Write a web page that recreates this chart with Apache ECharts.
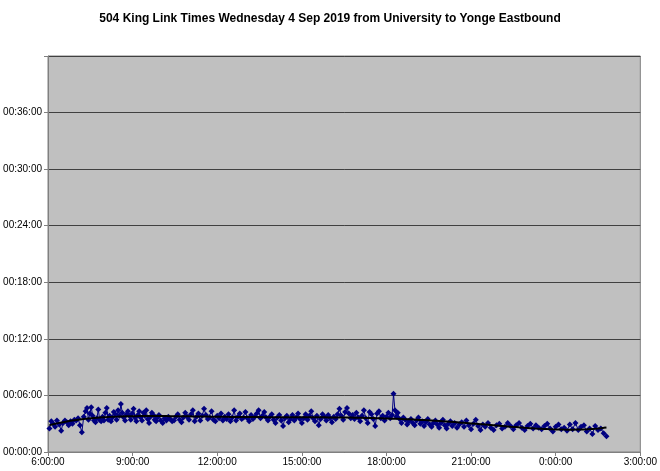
<!DOCTYPE html>
<html>
<head>
<meta charset="utf-8">
<script src="https://cdn.jsdelivr.net/npm/echarts@6/dist/echarts.min.js"></script>
<style>html,body{margin:0;padding:0;background:#fff}#c{width:660px;height:471px}</style>
</head>
<body>
<div id="c"></div>
<script>
// Trip start time (minutes after midnight of 4 Sep; >1440 = next day)
var tripMinutes = [
363,367,371,375,379,384,388,392,396,400,404,408,412,416,420,
424,428,432,436,440,443,446,449,452,455,458,461,464,467,470,473,476,479,
482,485,488,491,494,497,500,503,506,509,512,515,518,521,524,527,530,533,536,
539,542,545,548,551,554,557,560,563,566,569,572,575,578,581,584,587,590,593,
596,600,604,608,612,616,620,624,628,632,636,640,644,648,652,656,
660,664,668,672,676,680,684,688,692,696,700,704,708,712,
716,720,724,728,732,736,740,744,748,752,756,760,764,768,772,
776,780,784,788,792,796,800,804,808,812,816,820,824,828,
832,836,840,844,848,852,856,860,864,868,872,876,880,884,888,
892,896,900,904,908,912,916,920,924,928,932,936,940,944,948,
952,956,960,964,968,972,976,980,984,988,992,996,1000,1004,1008,
1012,1016,1020,1024,1028,1032,1036,1040,1044,1048,1052,1056,1060,1064,1068,1072,
1076,1080,1084,1088,1092,1095,1098,1101,1104,1108,1112,1116,1120,1124,1128,
1132,1136,1140,1144,1148,1152,1156,1160,1164,1168,1172,1176,1180,1184,
1188,1192,1196,1200,1204,1208,1212,1216,1220,1225,1230,1235,1240,
1245,1250,1255,1260,1265,1270,1275,1280,1285,1290,
1296,1302,1308,1314,1320,1326,1332,1338,1344,1350,
1356,1362,1368,1374,1380,1386,1392,1398,1404,
1410,1416,1422,1428,1434,1440,1446,1452,1458,1464,
1470,1476,1482,1488,1494,1500,1506,1512,1518,1524,1530,1536,1542,1548
];
// Link time in seconds
var linkSeconds = [
150,195,180,160,200,175,135,185,200,190,170,195,180,205,200,
215,170,125,225,260,280,205,245,285,230,200,190,215,270,205,195,225,200,
250,280,205,230,195,220,255,240,205,265,230,305,250,220,200,240,260,230,205,
245,275,220,195,235,260,220,200,250,230,265,210,185,225,250,235,205,195,220,
235,200,185,215,200,225,210,195,200,225,240,205,190,220,250,225,
205,240,265,195,225,245,200,230,275,235,210,220,260,205,
195,230,215,245,200,225,210,240,195,220,265,200,225,245,210,
220,255,215,195,235,210,225,245,265,215,230,255,220,200,
225,240,205,185,220,235,200,165,215,230,190,210,235,200,220,
245,210,185,215,240,205,230,260,215,195,230,170,210,240,225,
200,235,215,190,225,210,240,275,230,205,255,280,245,215,235,
210,250,220,195,230,265,215,185,255,240,210,165,245,260,215,230,
200,225,250,215,235,370,265,225,250,210,185,220,205,175,195,
210,185,170,200,220,180,195,165,190,210,175,160,185,200,
175,155,185,205,170,150,180,195,165,185,155,175,190,
160,200,170,145,180,205,165,140,175,160,
185,155,140,170,180,150,160,185,165,145,
170,185,155,140,165,180,150,170,155,
145,165,180,150,130,160,175,145,155,135,
175,145,185,140,160,170,130,150,115,165,140,150,120,100
];
var xTicks = {min: 360, max: 1620, step: 180};
var yTicks = {min: 0, max: 2520, step: 360};

function pad(n){return (n<10?'0':'')+n;}
var pts = tripMinutes.map(function(m,i){return [m, linkSeconds[i]];});

// Polynomial least-squares trendline from the data
function polyFit(xs, ys, deg){
  var n = deg+1, A = [], b = [];
  for (var i=0;i<n;i++){A.push(new Array(n).fill(0)); b.push(0);}
  for (var k=0;k<xs.length;k++){
    var t = xs[k];
    for (var i=0;i<n;i++){
      b[i] += Math.pow(t,i)*ys[k];
      for (var j=0;j<n;j++) A[i][j] += Math.pow(t,i+j);
    }
  }
  for (var c=0;c<n;c++){
    var p=c; for (var r=c+1;r<n;r++) if (Math.abs(A[r][c])>Math.abs(A[p][c])) p=r;
    var tmp=A[c];A[c]=A[p];A[p]=tmp; var tb=b[c];b[c]=b[p];b[p]=tb;
    for (var r=c+1;r<n;r++){var f=A[r][c]/A[c][c]; for (var j=c;j<n;j++) A[r][j]-=f*A[c][j]; b[r]-=f*b[c];}
  }
  var x = new Array(n).fill(0);
  for (var i=n-1;i>=0;i--){var s=b[i]; for (var j=i+1;j<n;j++) s-=A[i][j]*x[j]; x[i]=s/A[i][i];}
  return x;
}
var norm = function(m){return (m-955)/595;};
var coef = polyFit(tripMinutes.map(norm), linkSeconds, 5);
var trend = tripMinutes.map(function(m){
  var t = norm(m), v = 0;
  for (var i=0;i<coef.length;i++) v += coef[i]*Math.pow(t,i);
  return [m, v];
});

var font = '"Liberation Sans", Arial, sans-serif';
var chart = echarts.init(document.getElementById('c'), null, {renderer:'canvas'});
chart.setOption({
  backgroundColor: '#ffffff',
  animation: false,
  title: {
    text: '504 King Link Times Wednesday 4 Sep 2019 from University to Yonge Eastbound',
    left: 'center', top: 8,
    textStyle: {fontFamily: font, fontSize: 12, fontWeight: 'bold', color: '#000'}
  },
  grid: {left: 48, right: 16, top: 56, bottom: 19, show: true,
         backgroundColor: '#C0C0C0', borderColor: '#808080', borderWidth: 1},
  xAxis: {
    type: 'value', min: xTicks.min, max: xTicks.max, interval: xTicks.step,
    axisLine: {show: true, lineStyle: {color: '#808080', width: 1}},
    axisTick: {show: true, length: 4, lineStyle: {color: '#808080'}},
    splitLine: {show: false},
    axisLabel: {fontFamily: font, fontSize: 10, color: '#000', margin: 5,
      formatter: function(v){return (Math.floor(v/60)%24)+':'+pad(v%60)+':00';}}
  },
  yAxis: {
    type: 'value', min: yTicks.min, max: yTicks.max, interval: yTicks.step,
    axisLine: {show: true, lineStyle: {color: '#808080', width: 1}},
    axisTick: {show: true, length: 4, lineStyle: {color: '#808080'}},
    splitLine: {show: true, lineStyle: {color: '#404040', width: 1}},
    axisLabel: {fontFamily: font, fontSize: 10, color: '#000', margin: 6,
      formatter: function(v){ if (v >= yTicks.max) return ''; return '00:'+pad(Math.floor(v/60))+':'+pad(v%60);}}
  },
  series: [
    {type: 'line', data: pts, symbol: 'diamond', symbolSize: 6,
     lineStyle: {color: '#000080', width: 1}, itemStyle: {color: '#000080'}, z: 2},
    {type: 'line', data: trend, symbol: 'none', smooth: false,
     lineStyle: {color: '#000000', width: 2}, z: 3}
  ]
});
</script>
</body>
</html>
